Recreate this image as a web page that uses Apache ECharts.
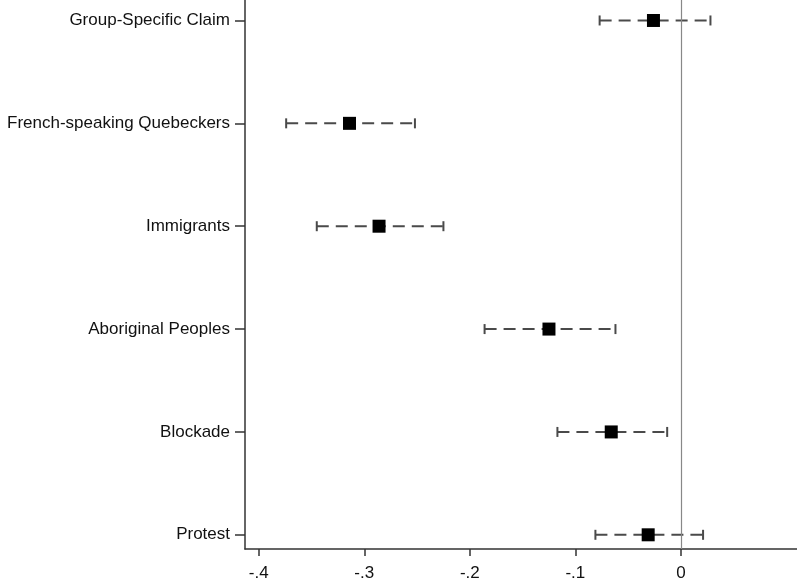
<!DOCTYPE html>
<html><head><meta charset="utf-8">
<script src="https://cdn.jsdelivr.net/npm/echarts@6/dist/echarts.min.js"></script>
<style>html,body{margin:0;padding:0;background:#fff}#c{width:797px;height:583px}</style>
</head><body><div id="c"></div>
<script>
const categories = ['Group-Specific Claim','French-speaking Quebeckers','Immigrants','Aboriginal Peoples','Blockade','Protest'];
const estimates = [-0.026, -0.314, -0.286, -0.125, -0.066, -0.031];
const lowerCI  = [-0.077, -0.374, -0.345, -0.186, -0.117, -0.081];
const upperCI  = [ 0.028, -0.252, -0.225, -0.062, -0.013,  0.021];
const xTickValues = [-0.4, -0.3, -0.2, -0.1, 0];
const xTickLabels = ['-.4', '-.3', '-.2', '-.1', '0'];

const catIdx = categories.map((_, i) => i);
const seriesData = categories.map((c, i) => [i, lowerCI[i], estimates[i], upperCI[i]]);

const chart = echarts.init(document.getElementById('c'), null, {renderer: 'canvas'});
const font = 'Liberation Sans, Arial, Helvetica, sans-serif';
chart.setOption({
  animation: false,
  backgroundColor: '#fff',
  grid: {left: 245, right: 0, top: 0, bottom: 34, containLabel: false},
  xAxis: {
    type: 'value', min: -0.413, max: 0.11,
    splitLine: {show: false},
    axisLine: {show: true, onZero: false, lineStyle: {color: '#333', width: 1.5}},
    axisTick: {show: true, length: 7, customValues: xTickValues, lineStyle: {color: '#333', width: 1.5}},
    axisLabel: {
      customValues: xTickValues, color: '#111', fontSize: 17, fontFamily: font, margin: 16,
      formatter: v => { const k = xTickValues.findIndex(t => Math.abs(t - v) < 1e-9); return k >= 0 ? xTickLabels[k] : ''; }
    }
  },
  yAxis: {
    type: 'value', inverse: true, min: -0.199, max: 5.138,
    splitLine: {show: false},
    axisLine: {show: true, onZero: false, lineStyle: {color: '#333', width: 1.5}},
    axisTick: {show: true, length: 10, customValues: catIdx, lineStyle: {color: '#333', width: 1.5}},
    axisLabel: {
      customValues: catIdx, color: '#111', fontSize: 17, fontFamily: font, margin: 15,
      formatter: v => categories[Math.round(v)] || ''
    }
  },
  series: [{
    type: 'custom',
    data: seriesData,
    encode: {x: [1, 2, 3], y: 0},
    renderItem: function (params, api) {
      const i = api.value(0);
      const pl = api.coord([api.value(1), i]);
      const pe = api.coord([api.value(2), i]);
      const ph = api.coord([api.value(3), i]);
      const cap = 5, s = 13;
      const st = {stroke: '#4a4a4a', lineWidth: 2};
      return {type: 'group', children: [
        {type: 'line', shape: {x1: pl[0], y1: pl[1], x2: ph[0], y2: ph[1]}, style: Object.assign({lineDash: [12, 7]}, st)},
        {type: 'line', shape: {x1: pl[0], y1: pl[1] - cap, x2: pl[0], y2: pl[1] + cap}, style: st},
        {type: 'line', shape: {x1: ph[0], y1: ph[1] - cap, x2: ph[0], y2: ph[1] + cap}, style: st},
        {type: 'rect', shape: {x: pe[0] - s / 2, y: pe[1] - s / 2, width: s, height: s}, style: {fill: '#000'}}
      ]};
    },
    markLine: {
      silent: true, symbol: 'none', label: {show: false},
      lineStyle: {color: '#888', type: 'solid', width: 1.2},
      data: [{xAxis: 0}]
    },
    z: 3
  }]
});
</script>
</body></html>
